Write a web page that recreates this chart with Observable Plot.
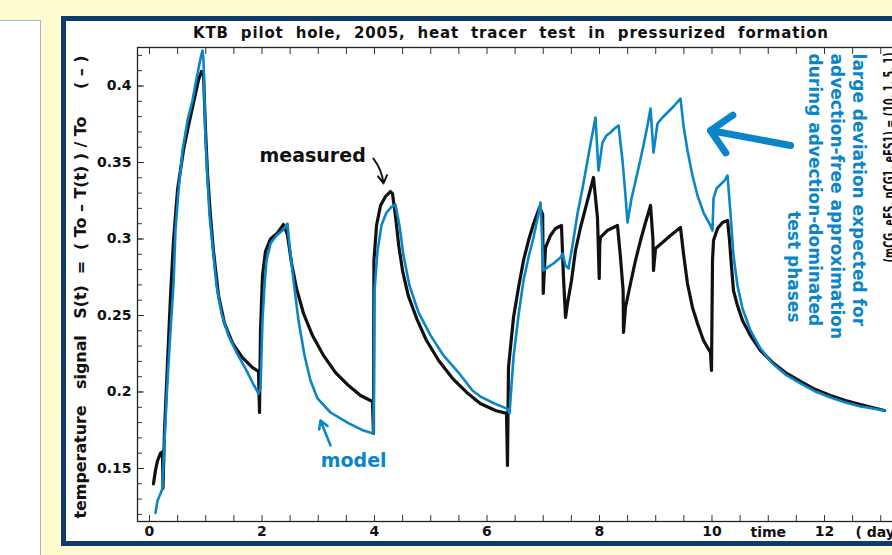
<!DOCTYPE html>
<html><head><meta charset="utf-8">
<script src="https://cdn.jsdelivr.net/npm/d3@7"></script>
<script src="https://cdn.jsdelivr.net/npm/@observablehq/plot@0.6"></script>
<style>
html,body{margin:0;padding:0;width:892px;height:555px;overflow:hidden;background:#fffdd0;}
#leftpanel{position:absolute;left:0;top:20px;width:40px;height:540px;background:#fff;border-right:1.5px solid #9fb4d0;border-top:1px solid #9fb4d0;}
#frame{position:absolute;left:61px;top:16px;width:1000px;height:530px;background:#fff;border:5px solid #0f3a6c;box-sizing:border-box;}
#chart{position:absolute;left:0;top:0;width:960px;height:555px;}
#title{position:absolute;left:0;top:0;}
</style></head>
<body>
<div id="leftpanel"></div>
<div id="frame"></div>
<svg id="title" width="892" height="46"></svg>
<div id="chart"></div>
<script>
const titleText = "KTB  pilot  hole,  2005,  heat  tracer  test  in  pressurized  formation";
const yAxisTitle = "temperature   signal   S(t)  =  ( To – T(t) ) / To     ( – )";
const xTickValues = [0, 2, 4, 6, 8, 10, 12];
const xTickLabels = ["0", "2", "4", "6", "8", "10", "12"];
const yTickValues = [0.15, 0.2, 0.25, 0.3, 0.35, 0.4];
const yTickLabels = ["0.15", "0.2", "0.25", "0.3", "0.35", "0.4"];
const timeLabel = "time";
const unitLabel = "( days )";
const seriesNames = ["measured", "model"];
const noteLines = ["large deviation expected for", "advection-free approximation", "during advection-dominated", "test phases"];
const paramText = "(mCG, eES, pCG1, eFS1) = (10, 1, 5, 1)";

// measured (black) : time in days, signal S(t)
const measuredTime = [0.071,0.107,0.142,0.196,0.231,0.24,0.267,0.32,0.373,0.427,0.498,0.604,0.693,0.782,0.871,0.924,0.96,0.996,1.031,1.084,1.138,1.227,1.333,1.476,1.653,1.831,1.938,1.956,1.973,2.009,2.062,2.151,2.276,2.382,2.453,2.524,2.613,2.738,2.898,3.093,3.307,3.538,3.751,3.964,3.982,3.99,4.036,4.107,4.196,4.284,4.32,4.373,4.43,4.5,4.6,4.75,4.92,5.14,5.39,5.64,5.88,6.15,6.347,6.364,6.382,6.471,6.56,6.649,6.738,6.827,6.933,6.99,7.0,7.04,7.129,7.218,7.324,7.36,7.396,7.431,7.502,7.573,7.662,7.787,7.893,7.964,7.995,8.005,8.018,8.142,8.32,8.373,8.42,8.427,8.462,8.551,8.64,8.729,8.818,8.907,8.95,8.96,8.996,9.12,9.262,9.44,9.493,9.564,9.653,9.742,9.849,9.973,9.991,10.009,10.027,10.098,10.187,10.276,10.31,10.34,10.382,10.453,10.542,10.684,10.862,11.076,11.307,11.573,11.84,12.107,12.373,12.64,12.853,13.067];
const measuredSignal = [0.140,0.149,0.155,0.160,0.161,0.137,0.175,0.219,0.262,0.299,0.332,0.358,0.374,0.389,0.404,0.4095,0.408,0.371,0.343,0.315,0.292,0.263,0.245,0.232,0.2225,0.216,0.2134,0.1866,0.240,0.276,0.292,0.300,0.304,0.3095,0.3026,0.2846,0.2677,0.2513,0.2369,0.2239,0.2127,0.2042,0.1977,0.1938,0.1729,0.286,0.3088,0.3219,0.3278,0.331,0.3297,0.315,0.296,0.279,0.263,0.248,0.234,0.2206,0.2088,0.1997,0.1925,0.1879,0.186,0.152,0.216,0.2487,0.2683,0.286,0.299,0.310,0.3206,0.316,0.2644,0.2944,0.3023,0.3069,0.3088,0.2748,0.2487,0.2578,0.2729,0.2925,0.3075,0.3252,0.3402,0.314,0.2742,0.297,0.301,0.3056,0.3088,0.288,0.2663,0.2389,0.2552,0.2709,0.286,0.299,0.3108,0.3219,0.300,0.2794,0.2938,0.2977,0.3023,0.3075,0.2905,0.2709,0.2552,0.2448,0.2337,0.2258,0.2141,0.286,0.299,0.3069,0.3108,0.3121,0.300,0.285,0.2663,0.2565,0.2467,0.2369,0.2271,0.2193,0.2127,0.2069,0.2016,0.1977,0.1944,0.1918,0.1899,0.1879];

// model (blue)
const modelTime = [0.107,0.142,0.196,0.231,0.249,0.284,0.32,0.373,0.427,0.462,0.516,0.587,0.676,0.764,0.836,0.907,0.942,0.96,0.996,1.067,1.12,1.191,1.28,1.404,1.547,1.724,1.831,1.938,1.973,2.009,2.044,2.08,2.151,2.258,2.364,2.453,2.489,2.56,2.649,2.756,2.862,2.987,3.218,3.52,3.804,3.982,4.0,4.053,4.124,4.213,4.302,4.373,4.444,4.516,4.622,4.782,4.996,5.227,5.493,5.742,5.884,6.133,6.364,6.4,6.471,6.56,6.649,6.738,6.827,6.898,6.951,7.004,7.076,7.182,7.307,7.342,7.396,7.449,7.52,7.609,7.698,7.787,7.858,7.929,7.982,8.053,8.124,8.196,8.267,8.338,8.409,8.462,8.498,8.569,8.676,8.782,8.853,8.907,8.96,9.031,9.12,9.209,9.316,9.44,9.493,9.564,9.653,9.742,9.849,9.973,10.009,10.027,10.08,10.151,10.222,10.276,10.329,10.382,10.453,10.542,10.684,10.862,11.076,11.307,11.573,11.84,12.107,12.373,12.64,12.853,13.067];
const modelSignal = [0.121,0.129,0.1337,0.137,0.155,0.181,0.2075,0.240,0.270,0.3056,0.3317,0.3578,0.3775,0.3905,0.4049,0.418,0.4232,0.4167,0.3644,0.3154,0.2958,0.2696,0.2513,0.2369,0.2258,0.2141,0.2062,0.199,0.2023,0.2467,0.2696,0.286,0.297,0.3023,0.3056,0.3101,0.2958,0.2729,0.2467,0.2239,0.2075,0.1958,0.1866,0.180,0.1748,0.1729,0.266,0.292,0.309,0.3173,0.321,0.3225,0.3088,0.289,0.2696,0.252,0.237,0.2239,0.2127,0.201,0.197,0.1925,0.189,0.186,0.2226,0.25,0.2729,0.288,0.301,0.3134,0.3239,0.2794,0.2814,0.284,0.2879,0.2905,0.2827,0.2807,0.2958,0.3167,0.333,0.3513,0.3657,0.3794,0.3448,0.363,0.3676,0.3696,0.3722,0.3742,0.3513,0.3284,0.3108,0.3265,0.3435,0.3611,0.3742,0.3853,0.3565,0.3755,0.3794,0.3827,0.3866,0.3918,0.3742,0.3578,0.3415,0.3284,0.3173,0.3088,0.3056,0.3265,0.333,0.3356,0.3382,0.3415,0.3167,0.2892,0.2696,0.2546,0.2402,0.2284,0.2186,0.2114,0.2056,0.2003,0.1964,0.1931,0.1905,0.1892,0.1879];

const measured = measuredTime.map((t, i) => ({t, s: measuredSignal[i]}));
const model = modelTime.map((t, i) => ({t, s: modelSignal[i]}));

const blue = "#0a85c8";
const ink = "#111";
const bold = {fontFamily: "DejaVu Sans", fontWeight: "bold"};
const xMinor = d3.range(0, 13.75, 0.5);
const yMinor = d3.range(12, 43).map(v => v / 100);

const chart = Plot.plot({
  width: 960, height: 555,
  marginLeft: 137, marginRight: 23.5, marginTop: 47, marginBottom: 34,
  x: {domain: [-0.2133, 14]},
  y: {domain: [0.11536, 0.42516]},
  style: {background: "transparent", fontFamily: "DejaVu Sans", color: ink},
  marks: [
    Plot.frame({stroke: "#222", strokeWidth: 1.3}),
    Plot.axisX(xMinor, {anchor: "bottom", tickSize: 6, dy: -6, tickFormat: () => "", label: null, stroke: "#333"}),
    Plot.axisX(xMinor, {anchor: "top", tickSize: 6, dy: 6, tickFormat: () => "", label: null, stroke: "#333"}),
    Plot.axisX(xTickValues, {anchor: "bottom", tickSize: 0, tickPadding: 5, tickFormat: d => xTickLabels[xTickValues.indexOf(d)], fontSize: 14, ...bold, label: null}),
    Plot.axisY(yMinor, {anchor: "left", tickSize: 5, dx: 5, tickFormat: () => "", label: null, stroke: "#333"}),
    Plot.axisY(yTickValues, {anchor: "left", tickSize: 7, dx: 7, tickFormat: () => "", label: null, stroke: "#333"}),
    Plot.axisY(yTickValues, {anchor: "left", tickSize: 0, tickPadding: 6, tickFormat: d => yTickLabels[yTickValues.indexOf(d)], fontSize: 14, ...bold, label: null}),
    Plot.text([timeLabel], {x: 11.0, frameAnchor: "bottom", dy: 15, text: d => d, fontSize: 14, ...bold, fill: ink}),
    Plot.text([unitLabel], {x: 12.55, frameAnchor: "bottom", dy: 15, text: d => d, textAnchor: "start", fontSize: 14, ...bold, fill: ink}),
    Plot.text([yAxisTitle], {y: 0.1173, frameAnchor: "left", dx: -57, rotate: -90, textAnchor: "start", text: d => d, fontSize: 16, ...bold, fill: ink}),
    Plot.line(measured, {x: "t", y: "s", stroke: ink, strokeWidth: 3.2}),
    Plot.line(model, {x: "t", y: "s", stroke: blue, strokeWidth: 2.6}),
    Plot.text([seriesNames[0]], {x: 2.9, y: 0.354, text: d => d, fontSize: 19, ...bold, fill: ink}),
    Plot.text([seriesNames[1]], {x: 3.63, y: 0.155, text: d => d, fontSize: 19, ...bold, fill: blue}),
    Plot.arrow([0], {x1: 3.98, y1: 0.3526, x2: 4.16, y2: 0.3363, bend: 15, stroke: ink, strokeWidth: 2, headLength: 10}),
    Plot.arrow([0], {x1: 3.218, y1: 0.165, x2: 3.04, y2: 0.1814, stroke: blue, strokeWidth: 2.5, headLength: 11}),
    Plot.arrow([0], {x1: 11.396, y1: 0.3611, x2: 9.973, y2: 0.3709, stroke: blue, strokeWidth: 7, headLength: 30, headAngle: 90}),
    Plot.text(noteLines.slice(0, 3), {x: [12.604, 12.213, 11.822], y: [0.4212, 0.4212, 0.4212], text: d => d, rotate: 90, textAnchor: "start", fontSize: 17, ...bold, fill: blue}),
    Plot.text(noteLines.slice(3), {x: [11.44], y: [0.2454], text: d => d, rotate: 90, textAnchor: "end", fontSize: 17, ...bold, fill: blue}),
    Plot.text([paramText], {x: [13.16], y: [0.2847], text: d => d, rotate: -90, textAnchor: "start", fontSize: 15, ...bold, fill: ink})
  ]
});
document.getElementById("chart").appendChild(chart);

d3.select(chart).selectAll("text").each(function() {
  if (this.textContent === yAxisTitle) {
    this.setAttribute("textLength", 463);
    this.setAttribute("lengthAdjust", "spacing");
  }
  if (this.textContent === paramText) {
    this.setAttribute("textLength", 210);
    this.setAttribute("lengthAdjust", "spacingAndGlyphs");
  }
});

d3.select("#title").append("text")
  .attr("x", 510.5).attr("y", 37.5)
  .attr("text-anchor", "middle")
  .attr("textLength", 635).attr("lengthAdjust", "spacing")
  .style("white-space", "pre")
  .style("font", "bold 15px 'DejaVu Sans'")
  .attr("fill", ink)
  .text(titleText);
</script>
</body></html>
